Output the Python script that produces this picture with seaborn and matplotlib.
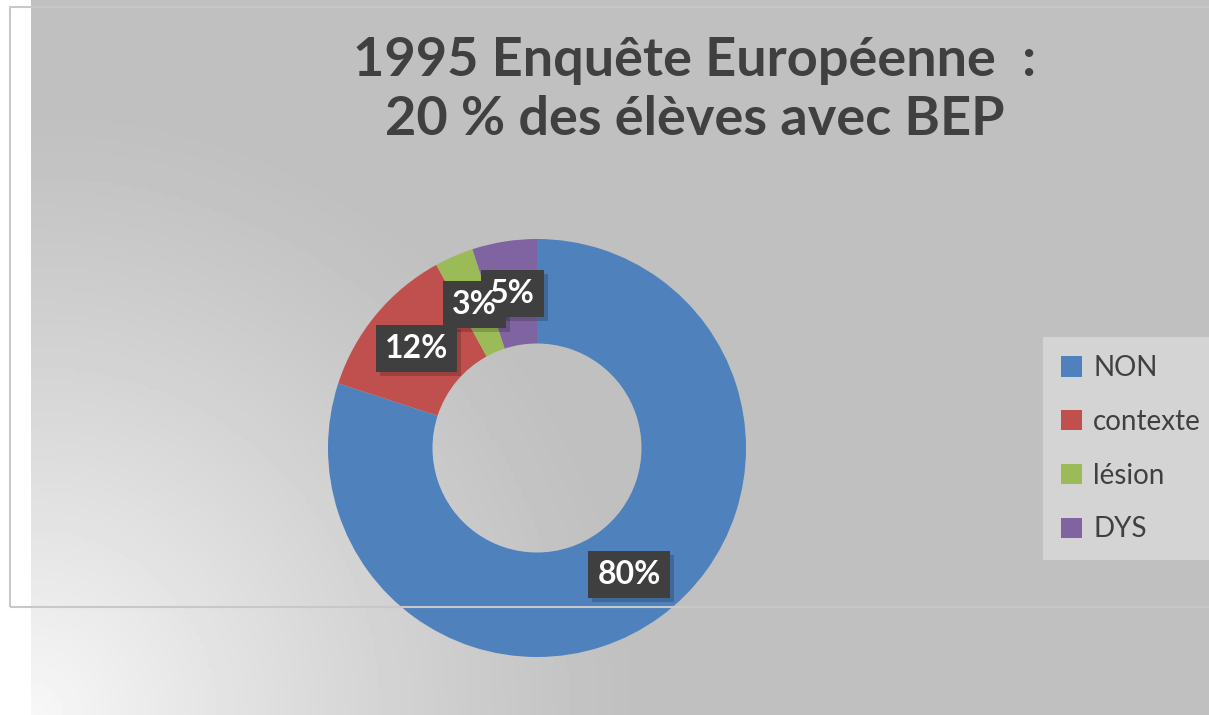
import numpy as np
import matplotlib
matplotlib.use("Agg")
import matplotlib.pyplot as plt
import seaborn as sns
from matplotlib.patches import Rectangle

## chart data
categories = ["NON", "contexte", "lésion", "DYS"]
values = [80, 12, 3, 5]
title_lines = ["1995 Enquête Européenne  :", "20 % des élèves avec BEP"]

sns.set_theme(style="white")
plt.rcParams['font.family'] = ['Lato', 'DejaVu Sans']
colors = sns.color_palette(["#4F81BD", "#C0504D", "#9BBB59", "#8064A2"])

W, H = 1209, 715
fig = plt.figure(figsize=(W / 100, H / 100), dpi=100)
fig.patch.set_facecolor("white")

# gray background with a light corner in the bottom left
bg = fig.add_axes([31 / W, 0, 1 - 31 / W, 1])
xx, yy = np.meshgrid(np.linspace(0, W - 31, 300), np.linspace(0, H, 200))
dist = np.sqrt(xx ** 2 + (H - yy) ** 2)
light = np.clip(1 - dist / 620, 0, 1) ** 1.2
shade = 0.75 + (0.97 - 0.75) * light
bg.imshow(shade, cmap="gray", vmin=0, vmax=1, aspect="auto", extent=[0, 1, 0, 1], origin="upper")
bg.set_axis_off()

# thin outline of the inner frame
fig.patches.append(Rectangle((10 / W, 1 - 607 / H), (W - 8) / W, 600 / H,
                             transform=fig.transFigure, fill=False,
                             ec="#C8C8C8", lw=1.5, zorder=1))

# donut
ax = fig.add_axes([(537 - 209) / W, (H - 448 - 209) / H, 418 / W, 418 / H])
wedges, _, autotexts = ax.pie(
    values, colors=colors, startangle=90, counterclock=False,
    wedgeprops=dict(width=0.5, edgecolor="none"),
    autopct=lambda p: f"{p:.0f}%", pctdistance=0.75,
)
for t in autotexts:
    t.set_color("white")
    t.set_fontsize(23)
    t.set_fontweight("bold")
    t.set_zorder(10)
ax.set_xlim(-1, 1)
ax.set_ylim(-1, 1)
ax.set_aspect("equal")
ax.set_axis_off()

# dark label boxes (with a soft shadow), drawn below all label texts
fig.canvas.draw()
renderer = fig.canvas.get_renderer()
inv = ax.transData.inverted()
pad = 9
for t in autotexts:
    bb = t.get_window_extent(renderer)
    for dx, dy, fc, alpha, z in [(4, -4, "black", 0.18, 3), (0, 0, "#3F3F3F", 1, 4)]:
        (x0, y0), (x1, y1) = inv.transform([(bb.x0 - pad + dx, bb.y0 - pad + dy),
                                            (bb.x1 + pad + dx, bb.y1 + pad + dy)])
        ax.add_patch(Rectangle((x0, y0), x1 - x0, y1 - y0, fc=fc, alpha=alpha,
                               ec="none", zorder=z, clip_on=False))

# title
fig.text(695 / W, 1 - 90 / H, "\n".join(title_lines), ha="center", va="center",
         fontsize=39, fontweight="bold", color="#404040", linespacing=1.25)

# legend
leg = fig.legend(wedges, categories, loc="upper left",
                 bbox_to_anchor=(1043 / W, 1 - 337 / H), borderaxespad=0,
                 fontsize=20, frameon=True, fancybox=False,
                 handlelength=0.75, handleheight=0.75, handletextpad=0.4,
                 labelspacing=1.0, borderpad=0.65)
leg.get_frame().set_facecolor("#D4D4D4")
leg.get_frame().set_edgecolor("none")
leg.get_frame().set_alpha(1)
for txt in leg.get_texts():
    txt.set_color("#404040")

fig.savefig("out.png", dpi=100)
